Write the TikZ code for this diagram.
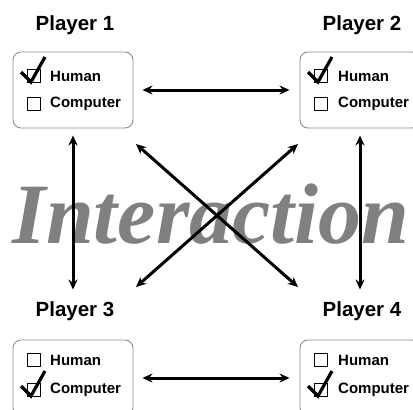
\documentclass[tikz,border=0pt]{standalone}
\usepackage{fontspec}
\setmainfont{Liberation Sans}
\newfontfamily\bigserif{Liberation Serif}
\usetikzlibrary{arrows.meta}

\begin{document}
\begin{tikzpicture}[x=1pt, y=-1pt]
		\tikzset{box/.style={draw=black!45, line width=0.9pt, rounded corners=8pt, minimum width=120pt, minimum height=76pt, inner sep=0pt}};
		\tikzset{chkbox/.style={draw=black, line width=0.8pt, minimum width=13pt, minimum height=12.5pt, inner sep=0pt}};
		\tikzset{opt/.style={anchor=west, inner sep=0pt, font=\fontsize{15}{17}\selectfont\bfseries}};
		\tikzset{plabel/.style={anchor=base, inner sep=0pt, font=\fontsize{20.5}{24}\selectfont\bfseries}};
		\tikzset{tick/.style={draw=black, line width=3.2pt, line join=miter}};
		\tikzset{arr/.style={line width=3pt, {Stealth[length=10pt,width=9pt]}-{Stealth[length=10pt,width=9pt]}}};

		\useasboundingbox (0, 0) rectangle (413, 410);
		\clip (0, 0) rectangle (413, 410);

		\node[plabel] (l1) at (75, 30) {Player 1};
		\node[plabel] (l2) at (362, 30) {Player 2};
		\node[plabel] (l3) at (75, 316) {Player 3};
		\node[plabel] (l4) at (362, 316) {Player 4};

		\node[box] (b1) at (73, 90) {};
		\node[box] (b2) at (360, 90) {};
		\node[box] (b3) at (73, 378) {};
		\node[box] (b4) at (360, 378) {};

		\node[chkbox] (c1h) at (34, 76) {};
		\node[chkbox] (c1c) at (34, 104) {};
		\node[chkbox] (c2h) at (321, 76) {};
		\node[chkbox] (c2c) at (321, 104) {};
		\node[chkbox] (c3h) at (34, 360) {};
		\node[chkbox] (c3c) at (34, 390) {};
		\node[chkbox] (c4h) at (321, 360) {};
		\node[chkbox] (c4c) at (321, 390) {};

		\node[opt] (t1h) at (50, 76) {Human};
		\node[opt] (t1c) at (50, 104) {Computer};
		\node[opt] (t2h) at (338, 76) {Human};
		\node[opt] (t2c) at (338, 104) {Computer};
		\node[opt] (t3h) at (50, 360) {Human};
		\node[opt] (t3c) at (50, 390) {Computer};
		\node[opt] (t4h) at (338, 360) {Human};
		\node[opt] (t4c) at (338, 390) {Computer};

		% the ticks
		\draw[tick] ([shift={(-13,-4)}]c1h.center) -- ([shift={(-3,6)}]c1h.center) -- ([shift={(11,-19)}]c1h.center);
		\draw[tick] ([shift={(-13,-4)}]c2h.center) -- ([shift={(-3,6)}]c2h.center) -- ([shift={(11,-19)}]c2h.center);
		\draw[tick] ([shift={(-13,-4)}]c3c.center) -- ([shift={(-3,6)}]c3c.center) -- ([shift={(11,-19)}]c3c.center);
		\draw[tick] ([shift={(-13,-4)}]c4c.center) -- ([shift={(-3,6)}]c4c.center) -- ([shift={(11,-19)}]c4c.center);

		\node[anchor=base, inner sep=0pt, text=black!50, font=\bigserif\fontsize{86}{90}\selectfont\bfseries\itshape] (title) at (211, 243) {Interaction};

		\coordinate (d1) at (136, 144);
		\coordinate (d2) at (298, 144);
		\coordinate (d3) at (136, 287);
		\coordinate (d4) at (298, 287);

		\draw[arr, shorten <=9pt, shorten >=10pt] (b1.east) to (b2.west);
		\draw[arr, shorten <=9pt, shorten >=10pt] (b3.east) to (b4.west);

		\draw[arr, shorten <=7pt, shorten >=50pt] (b1.south) to (b3.north);
		\draw[arr, shorten <=7pt, shorten >=50pt] (b2.south) to (b4.north);

		\draw[arr] (d1) to (d4);
		\draw[arr] (d2) to (d3);
	\end{tikzpicture}
\end{document}
